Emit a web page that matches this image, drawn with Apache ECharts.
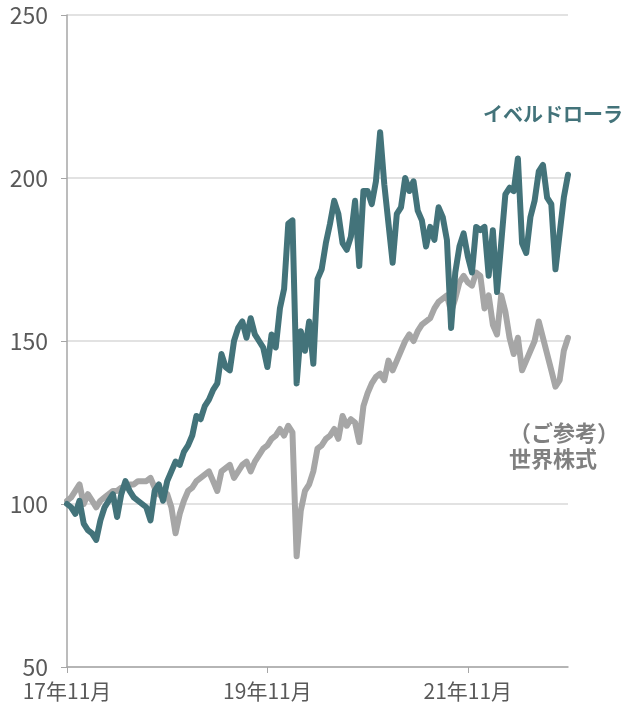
<!DOCTYPE html>
<html>
<head>
<meta charset="utf-8">
<script src="https://cdn.jsdelivr.net/npm/echarts@6/dist/echarts.min.js"></script>
<style>
  html, body { margin: 0; padding: 0; background: #fff; }
  #chart { width: 622px; height: 709px; }
</style>
</head>
<body>
<div id="chart"></div>
<script>
// half-month steps from 17年11月 (index 0) to 22年11月 (index 120)
var monthLabels = { 0: '17年11月', 48: '19年11月', 96: '21年11月' };
var categories = [];
for (var i = 0; i <= 120; i++) { categories.push(String(i)); }

var fundValues = [
  100, 99, 97, 101, 94, 92, 91, 89, 95, 99,
  101, 103, 96, 103, 107, 104, 102, 101, 100, 99,
  95, 104, 106, 101, 107, 110, 113, 112, 116, 118,
  121, 127, 126, 130, 132, 135, 137, 146, 142, 141,
  150, 154, 156, 151, 157, 152, 150, 148, 142, 152,
  148, 160, 166, 186, 187, 137, 153, 147, 156, 143,
  169, 172, 180, 186, 193, 189, 180, 178, 182, 193,
  173, 196, 196, 192, 199, 214, 198, 186, 174, 189,
  191, 200, 196, 199, 190, 187, 179, 185, 181, 191,
  188, 181, 154, 171, 179, 183, 176, 171, 185, 184,
  185, 170, 184, 165, 180, 195, 197, 196, 206, 180,
  177, 188, 193, 202, 204, 194, 192, 172, 183, 194,
  201
];

var worldValues = [
  101, 102, 104, 106, 100, 103, 101, 99, 101, 102,
  103, 104, 104, 105, 105, 106, 106, 107, 107, 107,
  108, 105, 103, 102, 103, 99, 91, 97, 101, 104,
  105, 107, 108, 109, 110, 107, 104, 110, 111, 112,
  108, 110, 112, 113, 110, 113, 115, 117, 118, 120,
  121, 123, 121, 124, 122, 84, 98, 104, 106, 110,
  117, 118, 120, 121, 123, 120, 127, 124, 126, 125,
  119, 130, 134, 137, 139, 140, 138, 144, 141, 144,
  147, 150, 152, 150, 153, 155, 156, 157, 160, 162,
  163, 164, 159, 163, 168, 170, 168, 167, 171, 170,
  160, 164, 155, 152, 164, 159, 151, 146, 151, 141,
  144, 147, 150, 156, 151, 146, 141, 136, 138, 147,
  151
];

var fontFamily = '"Noto Sans CJK JP", "Noto Sans", sans-serif';
var tealColor = '#43737a';
var grayColor = '#a6a6a6';

var chart = echarts.init(document.getElementById('chart'));
chart.setOption({
  animation: false,
  backgroundColor: '#fff',
  grid: { left: 67, right: 54, top: 15, bottom: 42, containLabel: false },
  xAxis: {
    type: 'category',
    boundaryGap: false,
    data: categories,
    axisLine: { lineStyle: { color: '#a6a6a6', width: 1.5 } },
    axisTick: {
      length: 6,
      lineStyle: { color: '#a6a6a6' },
      interval: function (idx) { return monthLabels[idx] !== undefined; }
    },
    axisLabel: {
      interval: function (idx) { return monthLabels[idx] !== undefined; },
      formatter: function (v) { return monthLabels[v] || ''; },
      color: '#595959',
      fontSize: 21,
      fontFamily: fontFamily,
      margin: 14
    },
    splitLine: { show: false }
  },
  yAxis: {
    type: 'value',
    min: 50,
    max: 250,
    interval: 50,
    axisLine: { show: true, lineStyle: { color: '#a6a6a6', width: 1.5 } },
    axisTick: { show: true, length: 6, lineStyle: { color: '#a6a6a6' } },
    axisLabel: {
      color: '#595959',
      fontSize: 23,
      fontFamily: fontFamily,
      margin: 19
    },
    splitLine: { lineStyle: { color: '#d9d9d9', width: 1.5 } }
  },
  series: [
    {
      name: '世界株式',
      type: 'line',
      data: worldValues,
      symbol: 'none',
      lineStyle: { color: grayColor, width: 6, join: 'round', cap: 'round' }
    },
    {
      name: 'イベルドローラ',
      type: 'line',
      data: fundValues,
      symbol: 'none',
      lineStyle: { color: tealColor, width: 6, join: 'round', cap: 'round' }
    }
  ],
  graphic: [
    {
      type: 'text', left: 483, top: 104,
      style: { text: 'イベルドローラ', fill: tealColor, font: 'bold 20px ' + fontFamily }
    },
    {
      type: 'text', left: 509, top: 420,
      style: { text: '（ご参考）\n世界株式', fill: '#808080', font: 'bold 22px ' + fontFamily, lineHeight: 26 }
    }
  ]
});
</script>
</body>
</html>
